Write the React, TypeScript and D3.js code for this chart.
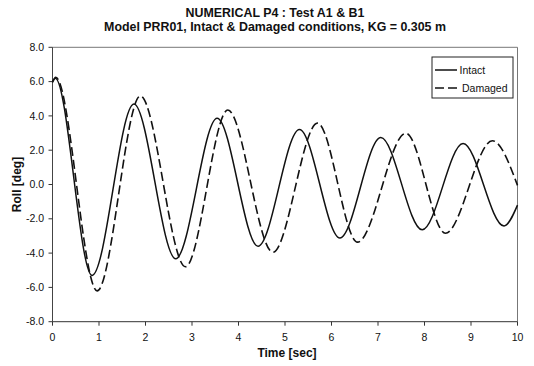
import React from "react";
import * as d3 from "d3";

const titleLines = ["NUMERICAL P4 : Test A1 & B1", "Model PRR01, Intact & Damaged conditions, KG = 0.305 m"];
const xTicks = [0, 1, 2, 3, 4, 5, 6, 7, 8, 9, 10];
const yTicks = [-8, -6, -4, -2, 0, 2, 4, 6, 8];

// Intact: turning points (time s, roll deg)
const intactT = [0, 0.06, 0.85, 1.75, 2.65, 3.54, 4.42, 5.31, 6.18, 7.06, 7.95, 8.83, 9.71, 10];
const intactV = [5.95, 6.2, -5.3, 4.69, -4.33, 3.86, -3.6, 3.21, -3.12, 2.74, -2.64, 2.39, -2.42, -1.2];

// Damaged: turning points
const damagedT = [0, 0.07, 0.96, 1.89, 2.86, 3.77, 4.74, 5.7, 6.56, 7.6, 8.45, 9.46, 10];
const damagedV = [6.0, 6.25, -6.2, 5.16, -4.8, 4.34, -3.95, 3.58, -3.36, 2.99, -2.84, 2.55, -0.05];

const W = 534, H = 366;
const M = { left: 52.5, right: 517.5, top: 47.3, bottom: 321.7 };

export default function App() {
  const x = d3.scaleLinear().domain([0, 10]).range([M.left, M.right]);
  const y = d3.scaleLinear().domain([-8, 8]).range([M.bottom, M.top]);
  const line = d3
    .line<[number, number]>()
    .x((d) => x(d[0]))
    .y((d) => y(d[1]))
    .curve(d3.curveMonotoneX);
  const intact = intactT.map((t, i) => [t, intactV[i]] as [number, number]);
  const damaged = damagedT.map((t, i) => [t, damagedV[i]] as [number, number]);
  const font = "'Liberation Sans', Arial, sans-serif";
  const ink = "#111";

  return (
    <svg width={W} height={H} style={{ position: "absolute", left: 0, top: 0, background: "#fff" }} fontFamily={font}>
      <rect x={0} y={0} width={W} height={H} fill="#fff" />
      {titleLines.map((t, i) => (
        <text key={i} x={275} y={i === 0 ? 17 : 31} textAnchor="middle" fontWeight="bold" fontSize={12.4} fill={ink}>
          {t}
        </text>
      ))}
      {/* plot frame */}
      <line x1={M.left} x2={M.right} y1={M.top} y2={M.top} stroke="#777" strokeWidth={1} />
      <line x1={M.right} x2={M.right} y1={M.top} y2={M.bottom} stroke="#777" strokeWidth={1} />
      <line x1={M.left} x2={M.left} y1={M.top} y2={M.bottom} stroke="#444" strokeWidth={1} />
      <line x1={M.left} x2={M.right} y1={M.bottom} y2={M.bottom} stroke="#333" strokeWidth={1} />
      {yTicks.map((v) => (
        <g key={v}>
          <line x1={M.left - 4} x2={M.left} y1={y(v)} y2={y(v)} stroke="#333" />
          <text x={44} y={y(v) + 3.6} textAnchor="end" fontSize={10.5} fill={ink}>
            {v.toFixed(1)}
          </text>
        </g>
      ))}
      {xTicks.map((v) => (
        <g key={v}>
          <line x1={x(v)} x2={x(v)} y1={M.bottom} y2={M.bottom + 4} stroke="#333" />
          <text x={x(v)} y={340.5} textAnchor="middle" fontSize={10.5} fill={ink}>
            {v}
          </text>
        </g>
      ))}
      <text x={287} y={357} textAnchor="middle" fontWeight="bold" fontSize={12} fill={ink}>
        Time [sec]
      </text>
      <text transform={`translate(21,${(M.top + M.bottom) / 2}) rotate(-90)`} textAnchor="middle" fontWeight="bold" fontSize={12} fill={ink}>
        Roll [deg]
      </text>
      <path d={line(intact) || ""} fill="none" stroke={ink} strokeWidth={1.5} />
      <path d={line(damaged) || ""} fill="none" stroke={ink} strokeWidth={1.6} strokeDasharray="9,4" />
      {/* legend */}
      <rect x={432} y={57} width={81} height={41} fill="#fff" stroke="#222" strokeWidth={1} />
      <line x1={435} x2={457} y1={70} y2={70} stroke={ink} strokeWidth={1.5} />
      <text x={459.5} y={74} fontSize={10.5} fill={ink}>Intact</text>
      <line x1={435} x2={460} y1={88} y2={88} stroke={ink} strokeWidth={1.6} strokeDasharray="9,4" />
      <text x={462} y={92} fontSize={10.5} fill={ink}>Damaged</text>
    </svg>
  );
}
